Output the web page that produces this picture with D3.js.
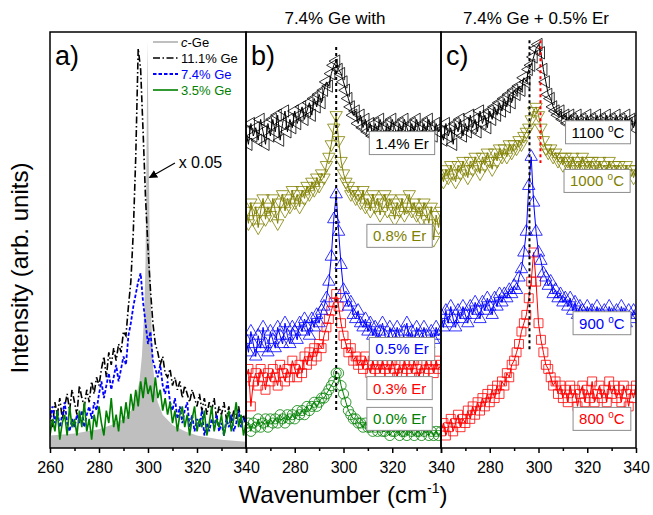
<!DOCTYPE html>
<html>
<head>
<meta charset="utf-8">
<script src="https://cdn.jsdelivr.net/npm/d3@7"></script>
<style>
  body { margin: 0; background: #fff; }
  svg { display: block; }
</style>
</head>
<body>
<script>
// wavenumber grid shared by every measured spectrum (cm-1)
const wn = d3.range(260, 341, 1);

// panel a: c-Ge reference (x 0.05), drawn as a filled area
const cGeX = [260, 270, 280, 285, 290, 293, 295, 296.5, 297.5, 298.5, 299, 299.3, 299.8, 300.3, 300.8, 301.3, 302, 303, 304, 306, 310, 315, 320, 330, 340];
const cGeY = [3, 3.5, 4.5, 5.5, 7, 9, 12, 16, 22, 33, 45, 65, 98, 70, 45, 32, 20, 14, 11, 8, 5.5, 4, 3, 2, 1.5];

// panel a: Ge content series
const ge111 = [9,5,11,8,12,7,10,13,9,14, 11,8,15,12,10,14,11,16,13,17, 15,19,22,17,23,20,24,21,25,23,
  28,27,34,40,52,70,96,91,76,60, 48,38,30,25,23,20,22,18,17,19, 15,17,14,16,12,15,13,11,14,12,
  10,13,9,12,8,11,9,12,7,10, 8,11,7,10,6,9,7,10,6,8, 5];
const ge74 = [7,10,6,9,5,8,11,6,4,7, 5,8,6,9,5,8,10,7,11,9, 13,16,12,15,18,14,17,20,16,19,
  22,20,27,30,34,37,40,42,35,30, 25,28,21,19,17,20,15,13,16,11, 9,12,7,10,6,9,11,5,8,4,
  7,5,9,3,6,4,7,5,8,4, 6,3,7,5,8,4,6,9,5,7, 6];
const ge35 = [3,7,4,9,2,6,8,3,10,5, 7,3,9,5,11,4,7,2,8,5, 10,6,3,9,6,12,5,8,4,10,
  6,11,7,13,9,14,10,16,12,17, 13,15,11,17,12,14,9,12,8,11, 6,9,4,8,10,5,8,3,7,10,
  4,7,5,9,3,6,10,4,7,5, 8,3,6,9,4,7,11,5,8,3, 6];

// panel b: 7.4% Ge with Er
const er14 = [76,73,78,75,77,74,79,76,73,78, 75,79,76,80,74,78,81,76,79,77, 81,78,80,82,79,81,83,80,84,82,
  85,83,86,88,87,90,92,93,91,90, 88,86,84,82,80,81,78,80,77,79, 76,78,75,78,76,79,77,75,78,76,
  79,77,75,78,76,79,77,75,78,76, 79,77,75,78,76,79,77,75,78,76, 77];
const er08 = [57,54,59,55,58,53,57,60,55,58, 56,60,57,54,59,61,57,60,58,62, 59,61,58,62,60,63,61,64,62,65,
  63,66,65,68,70,73,77,80,74,69, 66,64,63,61,62,60,61,59,62,58, 60,57,61,58,60,56,59,61,57,60,
  58,55,59,57,60,56,58,61,57,59, 56,58,55,59,57,54,58,50,56,53, 57];
const er05 = [26,23,28,25,22,27,24,29,25,23, 28,26,24,29,27,25,30,27,25,29, 28,26,30,28,31,29,27,31,29,32,
  30,33,34,36,40,46,55,61,52,44, 38,36,34,35,32,31,33,30,29,31, 28,30,27,29,26,28,30,27,25,29,
  27,26,29,27,25,28,30,26,28,25, 29,27,26,29,27,25,28,26,29,27, 28];
const er03 = [17,19,10,16,18,15,19,17,14,18, 16,19,17,15,20,18,16,19,17,21, 19,17,20,18,22,20,23,21,24,22,
  25,24,27,29,31,33,35,37,34,30, 27,25,23,24,21,22,20,21,19,22, 20,18,21,19,20,18,21,19,20,18,
  21,19,17,20,18,21,19,20,18,21, 19,17,20,18,21,19,20,18,21,19, 20];
const er00 = [5,6,4,6,5,7,5,6,7,5, 7,6,7,6,8,7,6,8,7,8, 7,9,8,9,8,10,9,10,11,10,
  11,12,12,13,14,15,16,18,18,15, 13,11,9,8,7,7,6,6,5,6, 5,5,4,5,4,5,4,4,5,3,
  4,4,5,3,4,4,3,5,4,3, 4,4,3,4,5,3,4,3,4,3, 4];

// panel c: 7.4% Ge + 0.5% Er, annealing temperature
const t1100 = [76,74,78,75,77,73,78,76,79,75, 78,76,80,77,79,76,81,78,80,77, 81,79,82,80,83,81,84,82,85,83,
  86,85,87,86,89,88,91,92,94,96, 97,95,91,88,85,84,82,81,80,81, 79,80,78,80,79,77,80,78,79,77,
  80,78,79,77,80,78,79,77,80,78, 79,77,80,78,79,77,80,78,79,77, 79];
const t1000 = [66,64,67,65,68,66,64,68,66,69, 67,65,69,67,70,68,66,70,68,71, 69,67,71,69,72,70,72,70,73,71,
  73,72,74,73,75,76,77,79,81,82, 80,77,74,72,71,72,70,71,69,70, 68,70,69,67,70,68,69,67,70,68,
  69,67,69,68,66,69,67,68,66,69, 67,68,66,68,67,65,68,66,67,65, 67];
const t900 = [32,29,33,30,34,31,29,33,31,34, 32,30,34,32,35,33,31,35,33,36, 34,32,36,34,37,35,37,36,38,37,
  39,38,41,43,47,52,63,70,59,52, 47,45,42,41,39,40,37,38,36,37, 35,36,34,36,33,35,32,34,33,31,
  34,32,33,31,34,32,30,33,31,34, 32,30,33,31,34,32,30,33,31,33, 32];
const t800 = [4,6,3,5,7,4,6,8,5,7, 6,9,7,10,8,11,9,12,10,13, 11,14,12,15,13,16,15,18,17,20,
  21,23,25,28,30,32,36,40,47,40, 30,26,23,20,19,17,15,16,13,15, 12,14,11,15,12,14,10,13,15,11,
  14,12,16,11,13,15,12,14,11,16, 13,15,12,14,11,15,13,10,14,12, 15];

const majorTicks = [260, 280, 300, 320, 340];
const minorTicks = [270, 290, 310, 330];

const OLIVE = "#808000", BLUE = "#0000ff", RED = "#ff0000", GREEN = "#008000";

const svg = d3.select("body").append("svg")
  .attr("width", 653)
  .attr("height", 515)
  .style("font-family", "Arial, 'Liberation Sans', sans-serif");

const y = d3.scaleLinear().domain([0, 100]).range([448, 32]);

const xa = d3.scaleLinear().domain([260, 340]).range([50, 246]);
const xb = d3.scaleLinear().domain([260, 340]).range([246, 441]);
const xc = d3.scaleLinear().domain([260, 340]).range([441, 636]);

const defs = svg.append("defs");
[["a", xa], ["b", xb], ["c", xc]].forEach(([id, x]) => {
  defs.append("clipPath").attr("id", "clip-" + id)
    .append("rect")
    .attr("x", x.range()[0]).attr("y", y.range()[1])
    .attr("width", x.range()[1] - x.range()[0])
    .attr("height", y.range()[0] - y.range()[1]);
});
defs.append("marker")
  .attr("id", "arrow")
  .attr("viewBox", "0 0 10 10")
  .attr("refX", 9).attr("refY", 5)
  .attr("markerWidth", 7).attr("markerHeight", 7)
  .attr("orient", "auto")
  .append("path").attr("d", "M0,0 L10,5 L0,10 z").attr("fill", "#000");

// ---------- panel a ----------
const ga = svg.append("g").attr("clip-path", "url(#clip-a)");

ga.append("path")
  .datum(d3.zip(cGeX, cGeY))
  .attr("fill", "#bfbfbf")
  .attr("d", d3.area().x(d => xa(d[0])).y0(y(0)).y1(d => y(d[1])));

const lineA = d3.line().x((d, i) => xa(wn[i])).y(d => y(d));

ga.append("path").datum(ge111)
  .attr("fill", "none").attr("stroke", "#000").attr("stroke-width", 1.6)
  .attr("stroke-dasharray", "7,2.5,1.5,2.5")
  .attr("d", lineA);
ga.append("path").datum(ge74)
  .attr("fill", "none").attr("stroke", BLUE).attr("stroke-width", 1.8)
  .attr("stroke-dasharray", "3.5,2")
  .attr("d", lineA);
ga.append("path").datum(ge35)
  .attr("fill", "none").attr("stroke", GREEN).attr("stroke-width", 1.6)
  .attr("d", lineA);

// legend
const legend = [
  {label: "-Ge", italic: "c", color: "#bfbfbf", text: "#000", dash: null, w: 2},
  {label: "11.1% Ge", color: "#000", text: "#000", dash: "7,2.5,1.5,2.5", w: 1.6},
  {label: "7.4% Ge", color: BLUE, text: BLUE, dash: "3.5,2", w: 1.8},
  {label: "3.5% Ge", color: GREEN, text: GREEN, dash: null, w: 1.6}
];
const lg = svg.append("g").attr("transform", "translate(153,42)");
legend.forEach((d, i) => {
  const row = lg.append("g").attr("transform", `translate(0,${i * 16})`);
  row.append("line").attr("x1", 0).attr("x2", 25)
    .attr("stroke", d.color).attr("stroke-width", d.w)
    .attr("stroke-dasharray", d.dash);
  const t = row.append("text").attr("x", 28).attr("y", 4.5)
    .attr("font-size", 13).attr("fill", d.text);
  if (d.italic) t.append("tspan").attr("font-style", "italic").text(d.italic);
  t.append("tspan").text(d.label);
});

// "x 0.05" annotation
svg.append("line")
  .attr("x1", xa(311)).attr("y1", y(68.5))
  .attr("x2", xa(300.6)).attr("y2", y(65))
  .attr("stroke", "#000").attr("stroke-width", 1.2)
  .attr("marker-end", "url(#arrow)");
svg.append("text").attr("x", xa(312.5)).attr("y", y(67.2))
  .attr("font-size", 16).text("x 0.05");

// ---------- panels b and c: line + open symbol series ----------
const shapes = {
  left: {type: d3.symbolTriangle, size: 66, rot: -90},
  down: {type: d3.symbolTriangle, size: 66, rot: 180},
  up: {type: d3.symbolTriangle, size: 66, rot: 0},
  square: {type: d3.symbolSquare, size: 80, rot: 0},
  circle: {type: d3.symbolCircle, size: 80, rot: 0}
};

function drawSeries(g, x, vals, color, shape) {
  g.append("path").datum(vals)
    .attr("fill", "none").attr("stroke", color).attr("stroke-width", 1)
    .attr("d", d3.line().x((d, i) => x(wn[i])).y(d => y(d)));
  const s = shapes[shape];
  const sym = d3.symbol(s.type, s.size);
  g.append("g").selectAll("path").data(vals).join("path")
    .attr("transform", (d, i) => `translate(${x(wn[i])},${y(d)}) rotate(${s.rot})`)
    .attr("d", sym)
    .attr("fill", "none").attr("stroke", color).attr("stroke-width", 0.8);
}

function drawLabel(g, x, lx, ly, text, color, sup) {
  const lab = g.append("g");
  const rect = lab.append("rect").attr("fill", "#fff").attr("stroke", "#8c8c8c").attr("stroke-width", 1);
  const t = lab.append("text").attr("x", x(lx)).attr("y", y(ly) + 5.5)
    .attr("text-anchor", "middle").attr("font-size", 15).attr("fill", color);
  if (sup) {
    t.append("tspan").text(text + " ");
    t.append("tspan").attr("font-size", 10).attr("dy", -6).text("o");
    t.append("tspan").attr("dy", 6).text("C");
  } else {
    t.text(text);
  }
  const bb = t.node().getBBox();
  rect.attr("x", bb.x - 6).attr("y", y(ly) - 11.5)
    .attr("width", bb.width + 12).attr("height", 23);
}

const gb = svg.append("g").attr("clip-path", "url(#clip-b)");
const bSeries = [
  {vals: er00, color: GREEN, shape: "circle", label: "0.0% Er"},
  {vals: er03, color: RED, shape: "square", label: "0.3% Er"},
  {vals: er05, color: BLUE, shape: "up", label: "0.5% Er"},
  {vals: er08, color: OLIVE, shape: "down", label: "0.8% Er"},
  {vals: er14, color: "#000", shape: "left", label: "1.4% Er"}
];
const bLabelPos = [[323, 7], [323, 14.4], [324, 23.8], [323, 51], [324, 73.3]];
bSeries.forEach(s => drawSeries(gb, xb, s.vals, s.color, s.shape));
gb.append("line")
  .attr("x1", xb(297)).attr("x2", xb(297))
  .attr("y1", y(96.4)).attr("y2", y(8.4))
  .attr("stroke", "#000").attr("stroke-width", 2).attr("stroke-dasharray", "3,3");
bSeries.forEach((s, i) => drawLabel(gb, xb, bLabelPos[i][0], bLabelPos[i][1], s.label, s.color, false));

const gc = svg.append("g").attr("clip-path", "url(#clip-c)");
const cSeries = [
  {vals: t800, color: RED, shape: "square", label: "800"},
  {vals: t900, color: BLUE, shape: "up", label: "900"},
  {vals: t1000, color: OLIVE, shape: "down", label: "1000"},
  {vals: t1100, color: "#000", shape: "left", label: "1100"}
];
const cLabelPos = [[326, 7], [326, 30], [324, 64.2], [324.4, 75.9]];
cSeries.forEach(s => drawSeries(gc, xc, s.vals, s.color, s.shape));
gc.append("line")
  .attr("x1", xc(296.3)).attr("x2", xc(296.3))
  .attr("y1", y(98)).attr("y2", y(23.6))
  .attr("stroke", "#000").attr("stroke-width", 2).attr("stroke-dasharray", "3,3");
gc.append("line")
  .attr("x1", xc(300.8)).attr("x2", xc(300.8))
  .attr("y1", y(98)).attr("y2", y(68.5))
  .attr("stroke", RED).attr("stroke-width", 2).attr("stroke-dasharray", "3,3");
cSeries.forEach((s, i) => drawLabel(gc, xc, cLabelPos[i][0], cLabelPos[i][1], s.label, s.color, true));

// ---------- axes & frames ----------
[[xa, true], [xb, false], [xc, false]].forEach(([x, first]) => {
  const g = svg.append("g").attr("transform", `translate(0,${y(0)})`);
  g.call(d3.axisBottom(x).tickValues(majorTicks).tickSize(5).tickSizeOuter(0)
      .tickFormat(d => (!first && d === 260) ? "" : d))
    .call(g => g.select(".domain").remove())
    .call(g => g.selectAll(".tick line").attr("stroke-width", 1.5))
    .call(g => g.selectAll(".tick text").attr("font-size", 16).attr("dy", "1.05em")
      .attr("font-family", "Arial, 'Liberation Sans', sans-serif"));
  g.append("g")
    .call(d3.axisBottom(x).tickValues(minorTicks).tickSize(3).tickFormat(""))
    .call(g => g.select(".domain").remove())
    .call(g => g.selectAll(".tick line").attr("stroke-width", 1.5));
  svg.append("rect")
    .attr("x", x.range()[0]).attr("y", y.range()[1])
    .attr("width", x.range()[1] - x.range()[0])
    .attr("height", y.range()[0] - y.range()[1])
    .attr("fill", "none").attr("stroke", "#000").attr("stroke-width", 1.5);
});

// panel letters
[["a)", xa], ["b)", xb], ["c)", xc]].forEach(([t, x]) => {
  svg.append("text").attr("x", x.range()[0] + 5).attr("y", 65)
    .attr("font-size", 27).text(t);
});

// titles
svg.append("text").attr("x", 335).attr("y", 24).attr("text-anchor", "middle")
  .attr("font-size", 17).text("7.4% Ge with");
svg.append("text").attr("x", 536).attr("y", 24).attr("text-anchor", "middle")
  .attr("font-size", 17).text("7.4% Ge + 0.5% Er");

// axis titles
const xt = svg.append("text").attr("x", 343).attr("y", 503).attr("text-anchor", "middle")
  .attr("font-size", 24);
xt.append("tspan").text("Wavenumber (cm");
xt.append("tspan").attr("font-size", 14).attr("dy", -10).text("-1");
xt.append("tspan").attr("dy", 10).text(")");

svg.append("text")
  .attr("transform", "translate(28,268) rotate(-90)")
  .attr("text-anchor", "middle").attr("font-size", 24)
  .text("Intensity (arb. units)");
</script>
</body>
</html>
